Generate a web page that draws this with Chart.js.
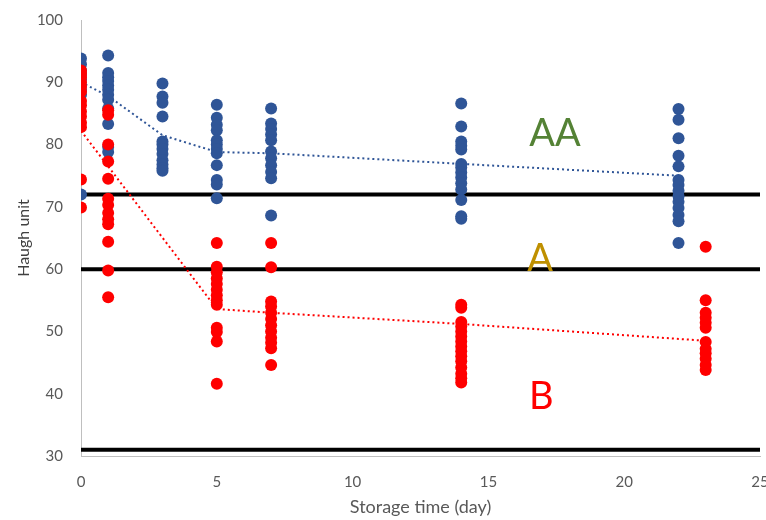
<!DOCTYPE html>
<html>
<head>
<meta charset="utf-8">
<script src="https://cdn.jsdelivr.net/npm/chart.js@4/dist/chart.umd.min.js"></script>
<style>
  html, body { margin: 0; padding: 0; background: #fff; }
  #wrap { width: 766px; height: 520px; }
</style>
</head>
<body>
<div id="wrap"><canvas id="chart" width="766" height="520"></canvas></div>
<script>
// Days on x, Haugh unit readings per day
const blueDays = [0, 1, 3, 5, 7, 14, 22];
const blueValues = [
  [93.8, 92.9, 91.9, 91.2, 90.5, 89.5, 88.8, 88.0, 72.0],
  [94.3, 91.5, 90.8, 90.2, 89.5, 88.8, 88.0, 87.2, 85.8, 83.3, 79.6, 78.8],
  [89.8, 87.7, 86.7, 84.5, 80.5, 80.0, 79.3, 78.5, 77.5, 76.8, 76.2, 75.8],
  [86.4, 84.3, 83.2, 82.3, 80.7, 80.0, 79.3, 78.6, 76.7, 74.3, 73.6, 71.4],
  [85.8, 83.4, 82.5, 81.6, 80.7, 78.9, 77.8, 76.7, 75.6, 74.6, 68.6],
  [86.6, 82.9, 80.5, 79.8, 79.2, 76.9, 76.3, 75.5, 74.7, 73.8, 72.8, 71.1, 68.5, 68.1],
  [85.7, 84.0, 81.0, 78.2, 76.5, 74.3, 73.5, 72.6, 71.7, 70.8, 69.8, 68.7, 67.7, 64.2]
];
const redDays = [0, 1, 5, 7, 14, 23];
const redValues = [
  [91.9, 91.4, 90.8, 90.0, 89.3, 88.5, 87.0, 86.3, 85.3, 84.5, 83.5, 82.8, 74.4, 69.9],
  [85.5, 84.8, 80.0, 77.3, 74.5, 71.3, 70.3, 69.0, 68.0, 67.2, 64.4, 59.8, 55.5],
  [64.2, 60.4, 59.5, 58.5, 57.6, 56.7, 55.8, 55.0, 54.3, 50.6, 49.9, 48.4, 41.6],
  [64.2, 60.3, 54.8, 54.0, 53.0, 52.0, 51.0, 50.0, 49.0, 48.2, 47.3, 44.6],
  [54.3, 53.8, 51.5, 50.8, 50.0, 49.2, 48.4, 47.6, 46.8, 46.0, 45.2, 44.2, 43.2, 42.5, 41.8],
  [63.6, 55.0, 53.0, 52.2, 51.4, 50.6, 48.3, 47.2, 46.5, 45.6, 44.6, 43.8]
];
// Mean trend lines (dotted)
const blueMeans = [90.0, 87.8, 81.5, 78.8, 78.6, 76.9, 75.0];
const redMeans = [82.2, 76.5, 53.6, 53.0, 51.2, 48.5];
// Grade boundaries
const gradeLimits = [72, 60, 31];
const axisX = [0, 25];
// Grade labels
const gradeNames = ['AA', 'A', 'B'];
const gradeX = [17.45, 16.9, 16.95];
const gradeY = [81.7, 61.7, 39.5];

const BLUE = '#2F5597';
const RED = '#FF0000';
const gradeColors = ['#548235', '#BF9000', '#FF0000'];
const FONT = 'Lato, "Open Sans", sans-serif';

function points(days, values) {
  const out = [];
  days.forEach((d, i) => values[i].forEach(v => out.push({ x: d, y: v })));
  return out;
}

const datasets = [];
datasets.push({
  type: 'scatter', data: points(redDays, redValues),
  backgroundColor: RED, borderColor: RED, pointRadius: 6, pointBorderWidth: 0, order: 0
});
datasets.push({
  type: 'scatter', data: points(blueDays, blueValues),
  backgroundColor: BLUE, borderColor: BLUE, pointRadius: 6, pointBorderWidth: 0, order: 1
});
datasets.push({
  type: 'line', data: redDays.map((d, i) => ({ x: d, y: redMeans[i] })),
  borderColor: RED, borderWidth: 2, borderDash: [2, 3], pointRadius: 0, fill: false, order: 2
});
datasets.push({
  type: 'line', data: blueDays.map((d, i) => ({ x: d, y: blueMeans[i] })),
  borderColor: BLUE, borderWidth: 2, borderDash: [2, 3], pointRadius: 0, fill: false, order: 2
});
gradeLimits.forEach(g => {
  datasets.push({
    type: 'line', data: axisX.map(x => ({ x: x, y: g })),
    borderColor: '#000', borderWidth: 4, pointRadius: 0, fill: false, order: 3
  });
});

const gradeText = {
  id: 'gradeText',
  afterDatasetsDraw(chart) {
    const ctx = chart.ctx;
    const xs = chart.scales.x, ys = chart.scales.y;
    ctx.save();
    ctx.font = '38px ' + FONT;
    ctx.textAlign = 'center';
    ctx.textBaseline = 'middle';
    gradeNames.forEach((t, i) => {
      ctx.fillStyle = gradeColors[i];
      ctx.fillText(t, xs.getPixelForValue(gradeX[i]), ys.getPixelForValue(gradeY[i]));
    });
    ctx.restore();
  }
};

new Chart(document.getElementById('chart'), {
  data: { datasets: datasets },
  options: {
    responsive: false,
    animation: false,
    layout: { padding: { top: 20, right: 4, left: 10, bottom: 0 } },
    plugins: { legend: { display: false }, tooltip: { enabled: false } },
    scales: {
      x: {
        type: 'linear', min: 0, max: 25,
        ticks: { stepSize: 5, color: '#595959', font: { family: FONT, size: 15 }, padding: 17 },
        grid: { display: false, drawTicks: false },
        border: { color: '#BFBFBF', width: 1 },
        title: { display: true, text: 'Storage time (day)', color: '#595959', font: { family: FONT, size: 18 }, padding: { top: 4, bottom: 2 } },
        afterFit(s) { s.paddingRight = 0; s.paddingLeft = 0; s.height = 64; }
      },
      y: {
        type: 'linear', min: 30, max: 100,
        ticks: { stepSize: 10, color: '#595959', font: { family: FONT, size: 15 }, padding: 18 },
        grid: { display: false, drawTicks: false },
        border: { color: '#BFBFBF', width: 1 },
        title: { display: true, text: 'Haugh unit', color: '#404040', font: { family: FONT, size: 16 } },
        afterFit(s) { s.width = 71; s.paddingTop = 0; }
      }
    }
  },
  plugins: [gradeText]
});
</script>
</body>
</html>
